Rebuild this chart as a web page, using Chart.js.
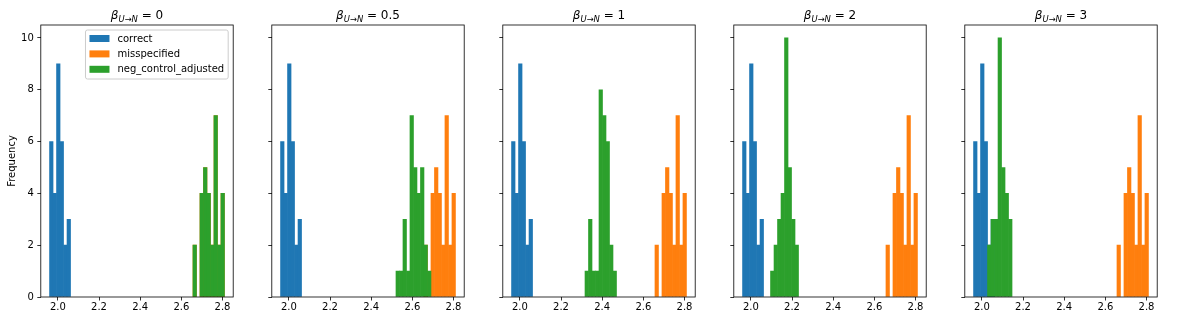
<!DOCTYPE html>
<html>
<head>
<meta charset="utf-8">
<script src="https://cdn.jsdelivr.net/npm/chart.js@4.4.0/dist/chart.umd.min.js"></script>
<style>
html, body { margin: 0; padding: 0; background: #fff; }
body { width: 1186px; height: 325px; position: relative; overflow: hidden; }
.panel { position: absolute; top: 0; height: 325px; }
</style>
</head>
<body>
<script>
// ---------------- data ----------------
const binStart = 1.9595;          // left edge of the first (common) histogram bin
const binWidth = 0.017;           // common bin width
const binCount = 50;              // number of common bins
const betaValues = ['0', '0.5', '1', '2', '3'];
const seriesNames = ['correct', 'misspecified', 'neg_control_adjusted'];
const seriesColors = ['#1f77b4', '#ff7f0e', '#2ca02c'];

// counts per bin, starting at the given bin index
const correctFirstBin = 0;
const correctCounts = [6, 4, 9, 6, 2, 3];
const misspecifiedFirstBin = 41;
const misspecifiedCounts = [2, 0, 4, 5, 4, 2, 7, 2, 4];
const negControlFirstBin = [41, 33, 21, 8, 4];
const negControlCounts0 = [2, 0, 4, 5, 4, 2, 7, 2, 4];
const negControlCounts05 = [1, 1, 3, 1, 7, 5, 4, 5, 2, 1];
const negControlCounts1 = [1, 3, 1, 1, 8, 7, 6, 2, 1];
const negControlCounts2 = [1, 2, 3, 4, 10, 5, 3, 2];
const negControlCounts3 = [2, 3, 3, 10, 5, 4, 3];
const negControlCounts = [negControlCounts0, negControlCounts05, negControlCounts1, negControlCounts2, negControlCounts3];

const xTicks = [2.0, 2.2, 2.4, 2.6, 2.8];
const yTicks = [0, 2, 4, 6, 8, 10];
const yLabel = 'Frequency';

// ---------------- layout (not data) ----------------
const axesLeft0 = 40.8, axesStep = 231.0, axesWidth = 192.4;
const axesTop = 25, axesBottom = 297, figH = 325;
const yAxisW = 40, canvasW = 236;
const FONT = '"DejaVu Sans", "Liberation Sans", sans-serif';

function makeBars(firstBin, counts) {
  return counts
    .map((c, j) => ({ x: binStart + (firstBin + j + 0.5) * binWidth, y: c }))
    .filter(p => p.y > 0);
}

const dataLo = binStart, dataHi = binStart + binCount * binWidth;
const xMargin = 0.05 * (dataHi - dataLo);
const xMin = dataLo - xMargin, xMax = dataHi + xMargin;
const allCounts = [].concat(correctCounts, misspecifiedCounts, ...negControlCounts);
const yMax = Math.max(...allCounts) * 1.05;

const mathTitle = {
  id: 'mathTitle',
  afterDraw(chart, args, opts) {
    const { ctx, chartArea } = chart;
    const parts = [
      { t: 'β', f: 'italic 12px ' + FONT, dy: 0 },
      { t: 'U', f: 'italic 8.4px ' + FONT, dy: 2.6 },
      { t: '→', f: '8.4px ' + FONT, dy: 2.6 },
      { t: 'N', f: 'italic 8.4px ' + FONT, dy: 2.6 },
      { t: ' = ' + opts.value, f: '12px ' + FONT, dy: 0 }
    ];
    ctx.save();
    let total = 0;
    parts.forEach(p => { ctx.font = p.f; p.w = ctx.measureText(p.t).width; total += p.w; });
    let x = (chartArea.left + chartArea.right) / 2 - total / 2;
    const base = chartArea.top - 6;
    ctx.fillStyle = '#000';
    ctx.textBaseline = 'alphabetic';
    ctx.textAlign = 'left';
    parts.forEach(p => { ctx.font = p.f; ctx.fillText(p.t, x, base + p.dy); x += p.w; });
    ctx.restore();
  }
};

const frame = {
  id: 'frame',
  afterDraw(chart) {
    const { ctx, chartArea: a } = chart;
    ctx.save();
    ctx.strokeStyle = '#000';
    ctx.lineWidth = 0.8;
    ctx.strokeRect(a.left, a.top, a.right - a.left, a.bottom - a.top);
    ctx.restore();
  }
};

const mplLegend = {
  id: 'mplLegend',
  afterDraw(chart, args, opts) {
    if (!opts.show) return;
    const { ctx, chartArea } = chart;
    const ds = chart.data.datasets;
    ctx.save();
    ctx.font = '10px ' + FONT;
    const tw = Math.max(...ds.map(d => ctx.measureText(d.label).width));
    const pad = 4, hl = 20, hp = 8, pitch = 15.4;
    const w = pad + hl + hp + tw + pad, h = 49;
    const right = chartArea.right - 5, top = chartArea.top + 5, left = right - w;
    ctx.beginPath();
    if (ctx.roundRect) ctx.roundRect(left, top, w, h, 2); else ctx.rect(left, top, w, h);
    ctx.fillStyle = 'rgba(255,255,255,0.8)';
    ctx.fill();
    ctx.strokeStyle = '#cccccc';
    ctx.lineWidth = 1;
    ctx.stroke();
    ds.forEach((d, k) => {
      const cy = top + 8.5 + k * pitch;
      ctx.fillStyle = d.backgroundColor;
      ctx.fillRect(left + pad, cy - 3.5, hl, 7);
      ctx.fillStyle = '#000';
      ctx.textBaseline = 'middle';
      ctx.textAlign = 'left';
      ctx.fillText(d.label, left + pad + hl + hp, cy + 0.5);
    });
    ctx.restore();
  }
};

betaValues.forEach((beta, i) => {
  const axL = axesLeft0 + i * axesStep;
  const canvasLeft = Math.floor(axL) - yAxisW;
  const div = document.createElement('div');
  div.className = 'panel';
  div.style.left = canvasLeft + 'px';
  div.style.width = canvasW + 'px';
  const cv = document.createElement('canvas');
  cv.width = canvasW; cv.height = figH;
  cv.style.width = canvasW + 'px'; cv.style.height = figH + 'px';
  div.appendChild(cv);
  document.body.appendChild(div);

  const padLeft = axL - canvasLeft - yAxisW;
  const padRight = canvasW - (axL + axesWidth - canvasLeft);

  const tickGrid = { offset: false, drawOnChartArea: false, drawTicks: true, tickLength: 3.5, tickWidth: 0.8, tickColor: '#000' };

  new Chart(cv, {
    type: 'bar',
    data: {
      datasets: [
        { label: seriesNames[0], data: makeBars(correctFirstBin, correctCounts), backgroundColor: seriesColors[0], order: 3 },
        { label: seriesNames[1], data: makeBars(misspecifiedFirstBin, misspecifiedCounts), backgroundColor: seriesColors[1], order: 2 },
        { label: seriesNames[2], data: makeBars(negControlFirstBin[i], negControlCounts[i]), backgroundColor: seriesColors[2], order: 1 }
      ]
    },
    options: {
      responsive: false,
      animation: false,
      devicePixelRatio: 1,
      events: [],
      layout: { padding: { left: padLeft, right: padRight, top: axesTop, bottom: 0 } },
      datasets: { bar: { barPercentage: 1, categoryPercentage: 1, grouped: false, borderWidth: 0 } },
      plugins: {
        legend: { display: false },
        title: { display: false },
        tooltip: { enabled: false },
        mathTitle: { value: beta },
        mplLegend: { show: i === 0 }
      },
      scales: {
        x: {
          type: 'linear', min: xMin, max: xMax, offset: false,
          afterBuildTicks: s => { s.ticks = xTicks.map(v => ({ value: v })); },
          afterFit: s => { s.height = figH - axesBottom; },
          grid: tickGrid,
          border: { display: false },
          ticks: {
            font: { family: FONT, size: 10 }, color: '#000', padding: 1,
            maxRotation: 0, autoSkip: false,
            callback: v => Number(v).toFixed(1)
          }
        },
        y: {
          type: 'linear', min: 0, max: yMax,
          afterBuildTicks: s => { s.ticks = yTicks.map(v => ({ value: v })); },
          afterFit: s => { s.width = yAxisW; },
          grid: tickGrid,
          border: { display: false },
          ticks: {
            display: i === 0,
            font: { family: FONT, size: 10 }, color: '#000', padding: 3.5,
            callback: v => String(v)
          },
          title: {
            display: i === 0, text: yLabel, color: '#000',
            font: { family: FONT, size: 10 }, padding: { top: 5.4, bottom: 0 }
          }
        }
      }
    },
    plugins: [mathTitle, frame, mplLegend]
  });
});
</script>
</body>
</html>
